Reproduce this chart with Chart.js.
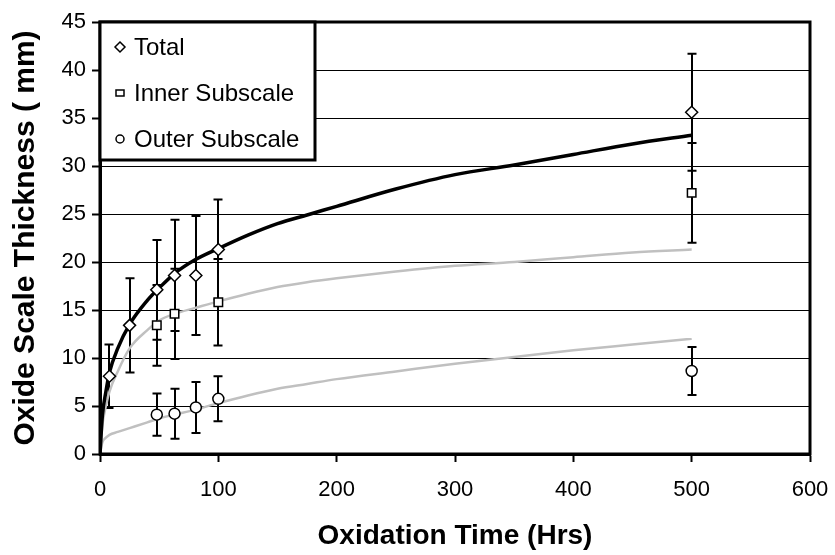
<!DOCTYPE html>
<html>
<head>
<meta charset="utf-8">
<script src="https://cdn.jsdelivr.net/npm/chart.js"></script>
<style>
  body { margin: 0; background: #fff; }
  #wrap { width: 835px; height: 555px; }
</style>
</head>
<body>
<div id="wrap"><canvas id="oxide" width="835" height="555"></canvas></div>
<script>
// fitted curves
const fitTime  = [0, 2, 5, 8, 15, 25, 40, 50, 63, 80, 100, 125, 150, 175, 200, 250, 300, 350, 400, 450, 500];
const fitTotal = [0, 4, 6.5, 8.5, 11, 13.5, 16, 17.3, 18.8, 20.2, 21.4, 22.8, 24, 24.9, 25.8, 27.6, 29.1, 30.1, 31.2, 32.3, 33.2];
const fitInner = [0, 3, 5, 6.5, 8.6, 11, 12.9, 13.9, 14.6, 15.2, 15.9, 16.7, 17.4, 17.9, 18.3, 19.0, 19.6, 20.0, 20.5, 21.0, 21.3];
const fitOuter = [0, 1.2, 1.7, 2.0, 2.3, 2.7, 3.3, 3.7, 4.1, 4.6, 5.3, 6.1, 6.8, 7.3, 7.8, 8.6, 9.4, 10.1, 10.8, 11.4, 12.0];

// measured points with error bars
const totalTime = [8, 25, 48, 63, 81, 100, 500];
const totalVal  = [8.1, 13.4, 17.1, 18.6, 18.6, 21.3, 35.6];
const totalErr  = [3.3, 4.9, 5.2, 5.8, 6.2, 5.2, 6.1];

const innerTime = [48, 63, 100, 500];
const innerVal  = [13.4, 14.6, 15.8, 27.2];
const innerErr  = [4.2, 4.7, 4.5, 5.2];

const outerTime = [48, 63, 81, 100, 500];
const outerVal  = [4.1, 4.2, 4.85, 5.75, 8.65];
const outerErr  = [2.2, 2.6, 2.65, 2.35, 2.5];

const legendNames = ['Total', 'Inner Subscale', 'Outer Subscale'];

function pts(xs, ys) {
  return xs.map(function(x, i){ return {x: x, y: ys[i]}; });
}

const errorBars = {
  id: 'errorBars',
  beforeDatasetsDraw(chart) {
    const ctx = chart.ctx, x = chart.scales.x, y = chart.scales.y;
    ctx.save();
    ctx.strokeStyle = '#000';
    ctx.lineWidth = 2;
    chart.data.datasets.forEach(function(ds){
      if (!ds.errors) return;
      ds.data.forEach(function(p, i){
        const px = Math.round(x.getPixelForValue(p.x));
        const t = y.getPixelForValue(p.y + ds.errors[i]);
        const b = y.getPixelForValue(p.y - ds.errors[i]);
        ctx.beginPath();
        ctx.moveTo(px, t); ctx.lineTo(px, b);
        ctx.moveTo(px - 4.5, t); ctx.lineTo(px + 4.5, t);
        ctx.moveTo(px - 4.5, b); ctx.lineTo(px + 4.5, b);
        ctx.stroke();
      });
    });
    ctx.restore();
  }
};

function marker(ctx, style, cx, cy) {
  ctx.beginPath();
  if (style == 'rectRot') {
    ctx.moveTo(cx, cy - 5); ctx.lineTo(cx + 5, cy); ctx.lineTo(cx, cy + 5); ctx.lineTo(cx - 5, cy); ctx.closePath();
  } else if (style == 'rect') {
    ctx.rect(cx - 4, cy - 3, 8, 6);
  } else {
    ctx.arc(cx, cy, 4, 0, Math.PI * 2);
  }
  ctx.fillStyle = '#fff';
  ctx.fill();
  ctx.stroke();
}

const frameAndLegend = {
  id: 'frameAndLegend',
  afterDraw(chart) {
    const ctx = chart.ctx, a = chart.chartArea;
    ctx.save();
    ctx.strokeStyle = '#000';
    ctx.lineWidth = 3;
    ctx.strokeRect(a.left, a.top, a.right - a.left, a.bottom - a.top);

    // legend box in the top-left corner
    const bx = a.left, by = a.top, bw = 215, bh = 138;
    ctx.fillStyle = '#fff';
    ctx.fillRect(bx, by, bw, bh);
    ctx.lineWidth = 3;
    ctx.strokeRect(bx, by, bw, bh);
    const styles = ['rectRot', 'rect', 'circle'];
    ctx.lineWidth = 1.5;
    ctx.font = '24px "Liberation Sans", Arial, sans-serif';
    ctx.textBaseline = 'middle';
    legendNames.forEach(function(name, i){
      const yy = by + 25 + i * 46;
      marker(ctx, styles[i], bx + 20, yy);
      ctx.fillStyle = '#000';
      ctx.fillText(name, bx + 34, yy + 1);
    });
    ctx.restore();
  }
};

try {
  const ctx = document.getElementById('oxide').getContext('2d');
  const data = {
    datasets: [
      {
        label: 'Total', data: pts(totalTime, totalVal), errors: totalErr,
        pointStyle: 'rectRot', pointRadius: 6, pointBorderWidth: 1.5,
        pointBackgroundColor: '#fff', pointBorderColor: '#000', showLine: false, order: 1
      },
      {
        label: 'Inner Subscale', data: pts(innerTime, innerVal), errors: innerErr,
        pointStyle: 'rect', pointRadius: 6, pointBorderWidth: 1.5,
        pointBackgroundColor: '#fff', pointBorderColor: '#000', showLine: false, order: 2
      },
      {
        label: 'Outer Subscale', data: pts(outerTime, outerVal), errors: outerErr,
        pointStyle: 'circle', pointRadius: 5.5, pointBorderWidth: 1.5,
        pointBackgroundColor: '#fff', pointBorderColor: '#000', showLine: false, order: 3
      },
      {
        label: 'total fit', data: pts(fitTime, fitTotal), showLine: true, pointRadius: 0,
        borderColor: '#000', borderWidth: 3.5, cubicInterpolationMode: 'monotone', order: 4
      },
      {
        label: 'inner fit', data: pts(fitTime, fitInner), showLine: true, pointRadius: 0,
        borderColor: '#c0c0c0', borderWidth: 2.5, cubicInterpolationMode: 'monotone', order: 5
      },
      {
        label: 'outer fit', data: pts(fitTime, fitOuter), showLine: true, pointRadius: 0,
        borderColor: '#c0c0c0', borderWidth: 2.5, cubicInterpolationMode: 'monotone', order: 6
      }
    ]
  };

  const myChart = new Chart(ctx, {
    type: 'scatter',
    data: data,
    options: {
      responsive: false,
      animation: false,
      layout: { padding: { top: 22, right: 25, left: 0, bottom: 0 } },
      plugins: {
        legend: { display: false },
        tooltip: { enabled: false }
      },
      scales: {
        x: {
          type: 'linear', min: 0, max: 600,
          afterFit: function(s){ s.height = 101; s.paddingLeft = 0; s.paddingRight = 0; },
          ticks: { stepSize: 100, color: '#000', padding: 15,
                   font: { family: '"Liberation Sans", Arial', size: 22 } },
          grid: { drawOnChartArea: false, color: '#000', tickLength: 8, tickWidth: 2 },
          border: { color: '#000', width: 3 },
          title: { display: true, text: 'Oxidation Time (Hrs)', color: '#000',
                   padding: { top: 0, bottom: 2 },
                   font: { family: '"Liberation Sans", Arial', size: 28, weight: 'bold' } }
        },
        y: {
          min: 0, max: 45,
          afterFit: function(s){ s.width = 100; s.paddingTop = 0; s.paddingBottom = 0; },
          ticks: { stepSize: 5, color: '#000', padding: 6,
                   font: { family: '"Liberation Sans", Arial', size: 22 } },
          grid: { color: '#000', lineWidth: 1, tickLength: 8, tickWidth: 2 },
          border: { color: '#000', width: 3 },
          title: { display: true, text: 'Oxide Scale Thickness ( mm)', color: '#000',
                   padding: { top: 8, bottom: 0 },
                   font: { family: '"Liberation Sans", Arial', size: 30, weight: 'bold' } }
        }
      }
    },
    plugins: [errorBars, frameAndLegend]
  });
} catch (e) {
  console.log('chart error', e);
}
</script>
</body>
</html>
